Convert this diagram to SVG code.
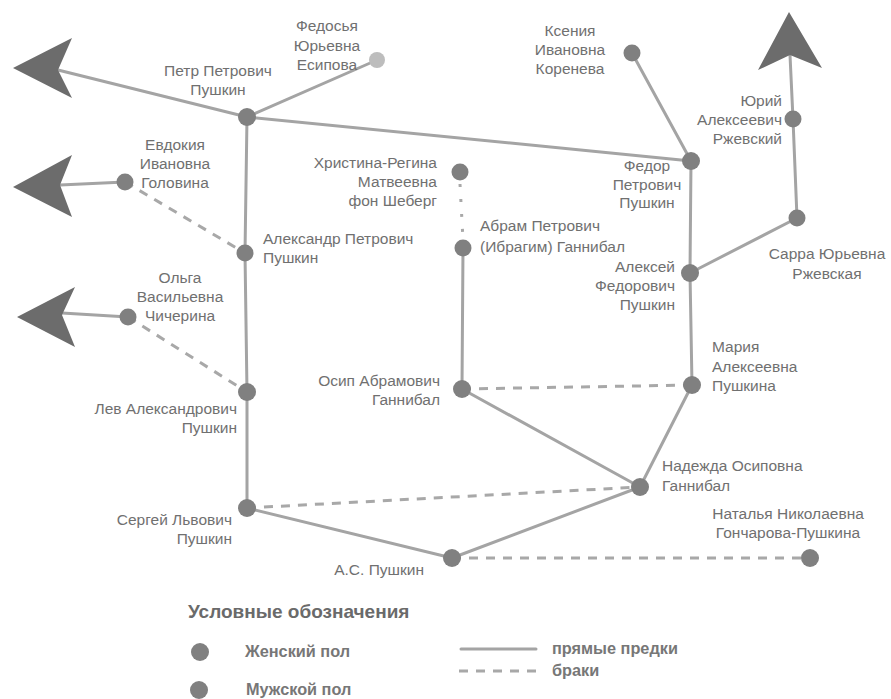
<svg xmlns="http://www.w3.org/2000/svg" width="891" height="699" viewBox="0 0 891 699">
<style>
.t{font-family:"Liberation Sans",Arial,sans-serif;font-size:15.5px;fill:#707070}
.m{text-anchor:middle}.e{text-anchor:end}
.n{fill:#808080}
.lt{fill:#bdbdbd}
.s{stroke:#a4a4a4;stroke-width:3;fill:none;stroke-linecap:round}
.d{stroke:#a8a8a8;stroke-width:3;fill:none;stroke-dasharray:9 8}
.dot{stroke:#a8a8a8;stroke-width:3;fill:none;stroke-dasharray:3 12}
.ah{fill:#6c6c6c}
.h{font-family:"Liberation Sans",Arial,sans-serif;font-size:19px;font-weight:bold;fill:#6a6a6a}
.lg{font-family:"Liberation Sans",Arial,sans-serif;font-size:16.3px;font-weight:bold;fill:#777}
</style>
<rect width="891" height="699" fill="#fff"/>
<g id="connectors">
<line class="s" x1="247" y1="117" x2="58" y2="70"/>
<line class="s" x1="247" y1="117" x2="377" y2="60"/>
<line class="s" x1="247" y1="117" x2="691" y2="161"/>
<line class="s" x1="247" y1="117" x2="245" y2="253"/>
<line class="s" x1="245" y1="253" x2="247" y2="392"/>
<line class="s" x1="247" y1="392" x2="247" y2="508"/>
<line class="s" x1="247" y1="508" x2="452" y2="558"/>
<line class="s" x1="452" y1="558" x2="640" y2="487"/>
<line class="s" x1="640" y1="487" x2="462" y2="389"/>
<line class="s" x1="640" y1="487" x2="692" y2="385"/>
<line class="s" x1="692" y1="385" x2="690" y2="273"/>
<line class="s" x1="690" y1="273" x2="691" y2="161"/>
<line class="s" x1="690" y1="273" x2="797" y2="218"/>
<line class="s" x1="797" y1="218" x2="793" y2="119"/>
<line class="s" x1="793" y1="119" x2="790" y2="55"/>
<line class="s" x1="691" y1="161" x2="632" y2="53"/>
<line class="s" x1="462" y1="389" x2="463" y2="248"/>
<line class="s" x1="125" y1="182" x2="60" y2="185"/>
<line class="s" x1="128" y1="317" x2="62" y2="313"/>
<line class="d" x1="125" y1="182" x2="245" y2="253"/>
<line class="d" x1="128" y1="317" x2="247" y2="392"/>
<line class="d" x1="247" y1="508" x2="640" y2="487"/>
<line class="d" x1="462" y1="389" x2="692" y2="385"/>
<line class="d" x1="452" y1="558" x2="810" y2="558"/>
<line class="dot" x1="460" y1="184" x2="463" y2="240"/>
<polygon class="ah" points="13,68 72,38 58,70 72,98"/>
<polygon class="ah" points="13,187 72,155 60,185 72,217"/>
<polygon class="ah" points="17,317 75,287 62,315 75,347"/>
<polygon class="ah" points="789,12 822,68 790,55 758,70"/>
</g>
<g id="n-petr"><circle class="n" cx="247" cy="117" r="9"/><text class="t m" x="218" y="76">Петр Петрович</text><text class="t m" x="218" y="95">Пушкин</text></g>
<g id="n-fedosya"><circle class="lt" cx="377" cy="60" r="8"/><text class="t m" x="327" y="31">Федосья</text><text class="t m" x="327" y="51">Юрьевна</text><text class="t m" x="327" y="70">Есипова</text></g>
<g id="n-evdokiya"><circle class="n" cx="125" cy="182" r="8.5"/><text class="t m" x="175" y="150">Евдокия</text><text class="t m" x="175" y="169">Ивановна</text><text class="t m" x="175" y="188">Головина</text></g>
<g id="n-aleksandr"><circle class="n" cx="245" cy="253" r="8.5"/><text class="t" x="263" y="244">Александр Петрович</text><text class="t" x="263" y="263">Пушкин</text></g>
<g id="n-olga"><circle class="n" cx="128" cy="317" r="8.5"/><text class="t m" x="180" y="283">Ольга</text><text class="t m" x="180" y="302">Васильевна</text><text class="t m" x="180" y="321">Чичерина</text></g>
<g id="n-lev"><circle class="n" cx="247" cy="392" r="9"/><text class="t e" x="237" y="414">Лев Александрович</text><text class="t e" x="237" y="433">Пушкин</text></g>
<g id="n-sergey"><circle class="n" cx="247" cy="508" r="9"/><text class="t e" x="232" y="525">Сергей Львович</text><text class="t e" x="232" y="544">Пушкин</text></g>
<g id="n-as"><circle class="n" cx="452" cy="558" r="9"/><text class="t e" x="424" y="575">А.С. Пушкин</text></g>
<g id="n-natalya"><circle class="n" cx="810" cy="558" r="9"/><text class="t m" x="788" y="519">Наталья Николаевна</text><text class="t m" x="788" y="538">Гончарова-Пушкина</text></g>
<g id="n-nadezhda"><circle class="n" cx="640" cy="487" r="9"/><text class="t" x="662" y="471">Надежда Осиповна</text><text class="t" x="662" y="491">Ганнибал</text></g>
<g id="n-osip"><circle class="n" cx="462" cy="389" r="9"/><text class="t e" x="440" y="386">Осип Абрамович</text><text class="t e" x="440" y="405">Ганнибал</text></g>
<g id="n-mariya"><circle class="n" cx="692" cy="385" r="9"/><text class="t" x="712" y="352">Мария</text><text class="t" x="712" y="372">Алексеевна</text><text class="t" x="712" y="391">Пушкина</text></g>
<g id="n-aleksey"><circle class="n" cx="690" cy="273" r="9"/><text class="t e" x="675" y="272">Алексей</text><text class="t e" x="675" y="291">Федорович</text><text class="t e" x="675" y="310">Пушкин</text></g>
<g id="n-sarra"><circle class="n" cx="797" cy="218" r="8.5"/><text class="t m" x="827" y="259">Сарра Юрьевна</text><text class="t m" x="827" y="279">Ржевская</text></g>
<g id="n-yuriy"><circle class="n" cx="793" cy="119" r="8.5"/><text class="t e" x="782" y="106">Юрий</text><text class="t e" x="782" y="125">Алексеевич</text><text class="t e" x="782" y="144">Ржевский</text></g>
<g id="n-fedor"><circle class="n" cx="691" cy="161" r="9"/><text class="t m" x="647" y="171">Федор</text><text class="t m" x="647" y="190">Петрович</text><text class="t m" x="647" y="208">Пушкин</text></g>
<g id="n-kseniya"><circle class="n" cx="632" cy="53" r="8.5"/><text class="t m" x="570" y="36">Ксения</text><text class="t m" x="570" y="55">Ивановна</text><text class="t m" x="570" y="74">Коренева</text></g>
<g id="n-hristina"><circle class="n" cx="460" cy="172" r="8.5"/><text class="t e" x="437" y="168">Христина-Регина</text><text class="t e" x="437" y="187">Матвеевна</text><text class="t e" x="437" y="206">фон Шеберг</text></g>
<g id="n-abram"><circle class="n" cx="463" cy="248" r="8.5"/><text class="t" x="480" y="231">Абрам Петрович</text><text class="t" x="480" y="252">(Ибрагим) Ганнибал</text></g>
<g id="legend">
<text class="h" x="188" y="618">Условные обозначения</text>
<circle class="n" cx="200" cy="652" r="9"/><text class="lg" x="245" y="657">Женский пол</text>
<circle class="n" cx="199" cy="690" r="9"/><text class="lg" x="246" y="695">Мужской пол</text>
<line class="s" x1="461" y1="649" x2="536" y2="649"/><text class="lg" x="552" y="654">прямые предки</text>
<line class="d" x1="459" y1="671" x2="536" y2="671" stroke-dasharray="4 8 9 7"/><text class="lg" x="552" y="676">браки</text>
</g>
</svg>
